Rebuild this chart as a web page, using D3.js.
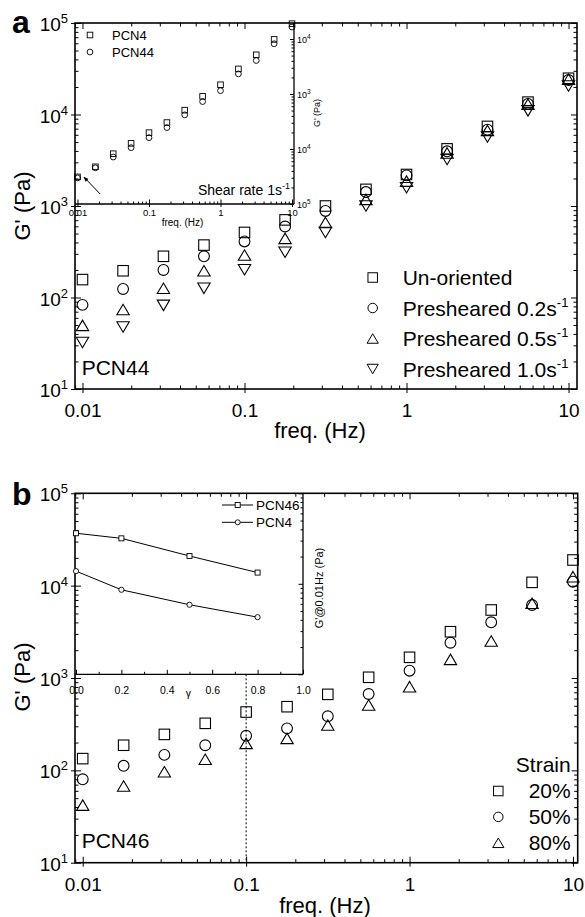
<!DOCTYPE html>
<html><head><meta charset="utf-8">
<script src="https://cdn.jsdelivr.net/npm/d3@7"></script>
<style>
body{margin:0;background:#fff}
svg text{font-family:"Liberation Sans",Arial,Helvetica,sans-serif;fill:#000}
</style>
</head><body>
<svg id="c" width="585" height="917" xmlns="http://www.w3.org/2000/svg"></svg>
<script>
// ---------------- data ----------------
const freq = [0.01,0.0178,0.0316,0.0562,0.1,0.178,0.316,0.562,1,1.78,3.16,5.62,10];
const aUnoriented = [157,196,282,374,514,705,1000,1520,2210,4210,7410,13650,24900];
const aPre02 = [83,124,200,282,410,597,883,1420,2160,3960,6820,13060,23800];
const aPre05 = [49.6,74,126,196,291,443,661,1180,1870,3800,6700,12970,24300];
const aPre10 = [32.2,47.6,82,126,201,312,514,1000,1585,3220,5680,10960,20500];
const insetAPCN4 = [1950,2525,3530,4600,6050,7830,10760,15300,20600,30900,44300,65700,98300];
const insetAPCN44 = [1900,2460,3240,4120,5320,6890,9540,13400,17700,27200,38300,58800,90200];
const bStrain20 = [134,187,245,323,428,489,665,1018,1675,3170,5450,10860,18960];
const bStrain50 = [80,112,147,187,237,285,385,671,1200,2410,4010,6170,11040];
const bStrain80 = [42,67.7,96.6,132,196,222,310,510,805,1592,2518,6440,12500];
const gamma = [0,0.2,0.5,0.8];
const insetBPCN46 = [36200,31800,20300,13300];
const insetBPCN4 = [13800,8590,5870,4280];
const freqTicks = [0.01,0.1,1,10];
const freqTickLabels = ["0.01","0.1","1","10"];
const gTicks = [10,100,1000,10000,100000];
const gTickExps = ["1","2","3","4","5"];
const insetAYTicks = [1e2,1e3,1e4,1e5];
const insetAYExps = ["5","4","3","4"];
const gammaTicks = [0,0.2,0.4,0.6,0.8,1.0];
const gammaMinor = [0.1,0.3,0.5,0.7,0.9];
const legendA = ["Un-oriented","Presheared 0.2s","Presheared 0.5s","Presheared 1.0s"];
const legendASup = ["","-1","-1","-1"];
const legendB = ["20%","50%","80%"];
const arrowFrom = [0.0207,1260], arrowTo = [0.0123,1945];
const markerLine = 0.1;

// ---------------- helpers ----------------
const svg = d3.select("#c");
const FONT = '"Liberation Sans",Arial,Helvetica,sans-serif';

function logTicks(scale){
  const d = scale.domain(), lo = Math.min(...d), hi = Math.max(...d), out=[];
  for(let k=Math.floor(Math.log10(lo)); k<=Math.ceil(Math.log10(hi)); k++)
    for(let m=1;m<=9;m++){const v=m*Math.pow(10,k); if(v>=lo*0.9999 && v<=hi*1.0001) out.push(v);}
  return out;
}
const isMajor = v => Math.abs(Math.log10(v)-Math.round(Math.log10(v)))<1e-6;
function clean(g){ g.select(".domain").remove(); g.selectAll("line").attr("stroke","#000").attr("stroke-width",1); return g; }

function symbol(g, type, cx, cy, s, sw){
  const st = {fill:"none",stroke:"#000","stroke-width":sw};
  let el;
  if(type==="square") el = g.append("rect").attr("x",cx-s/2).attr("y",cy-s/2).attr("width",s).attr("height",s);
  else if(type==="circle") el = g.append("circle").attr("cx",cx).attr("cy",cy).attr("r",s/2);
  else {
    const w=s*1.18, h=s*1.0;
    const pts = type==="up" ? [[cx,cy-h/2],[cx+w/2,cy+h/2],[cx-w/2,cy+h/2]] : [[cx,cy+h/2],[cx+w/2,cy-h/2],[cx-w/2,cy-h/2]];
    el = g.append("polygon").attr("points",pts.map(p=>p.join(",")).join(" "));
  }
  for(const k in st) el.attr(k,st[k]);
  return el;
}

function supLabel(sel, base, exps, supSize, supDy){
  sel.each(function(d,i){
    const t=d3.select(this); t.text(null);
    t.append("tspan").text(base);
    t.append("tspan").attr("font-size",supSize).attr("dy",supDy).text(exps[i]);
  });
}

function mainAxes(g, x, y){
  const [x0,x1]=x.range(), [y0,y1]=y.range();
  const xt=logTicks(x), yt=logTicks(y);
  const xMin=xt.filter(v=>!isMajor(v)), xMaj=xt.filter(isMajor);
  const yMin=yt.filter(v=>!isMajor(v)), yMaj=yt.filter(isMajor);
  // bottom
  g.append("g").attr("transform",`translate(0,${y0})`).call(d3.axisBottom(x).tickValues(xMin).tickSize(-3.5).tickFormat("")).call(clean);
  g.append("g").attr("transform",`translate(0,${y0})`).call(d3.axisBottom(x).tickValues(xMaj).tickSize(-6).tickFormat("")).call(clean);
  const bl = g.append("g").attr("transform",`translate(0,${y0})`)
    .call(d3.axisBottom(x).tickValues(freqTicks).tickSize(4).tickPadding(11).tickFormat((d,i)=>freqTickLabels[i])).call(clean);
  bl.attr("font-size",19).attr("font-family",FONT);
  // top
  g.append("g").attr("transform",`translate(0,${y1})`).call(d3.axisTop(x).tickValues(xMin).tickSize(-3.5).tickFormat("")).call(clean);
  g.append("g").attr("transform",`translate(0,${y1})`).call(d3.axisTop(x).tickValues(xMaj).tickSize(-6).tickFormat("")).call(clean);
  // left
  g.append("g").attr("transform",`translate(${x0},0)`).call(d3.axisLeft(y).tickValues(yMin).tickSize(-3.5).tickFormat("")).call(clean);
  g.append("g").attr("transform",`translate(${x0},0)`).call(d3.axisLeft(y).tickValues(yMaj).tickSize(-6).tickFormat("")).call(clean);
  const ll = g.append("g").attr("transform",`translate(${x0},0)`)
    .call(d3.axisLeft(y).tickValues(gTicks).tickSize(4).tickPadding(3).tickFormat(d=>"x")).call(clean);
  ll.attr("font-size",19).attr("font-family",FONT);
  ll.selectAll(".tick text").attr("dy","0.4em").call(supLabel,"10",gTickExps,13,-8);
  // right
  g.append("g").attr("transform",`translate(${x1},0)`).call(d3.axisRight(y).tickValues(yMin).tickSize(-3.5).tickFormat("")).call(clean);
  g.append("g").attr("transform",`translate(${x1},0)`).call(d3.axisRight(y).tickValues(yMaj).tickSize(-6).tickFormat("")).call(clean);
  // frame
  g.append("rect").attr("x",x0).attr("y",y1).attr("width",x1-x0).attr("height",y0-y1)
    .attr("fill","none").attr("stroke","#000").attr("stroke-width",1.6);
}

function series(g, x, y, xs, ys, type, s, sw){
  xs.forEach((xv,i)=>symbol(g,type,x(xv),y(ys[i]),s,sw));
}

// ================= PANEL A =================
const xa = d3.scaleLog().domain([0.00899,11.28]).range([75,577]);
const ya = d3.scaleLog().domain([10,1e5]).range([389,23]);
const ga = svg.append("g");
mainAxes(ga, xa, ya);

series(ga,xa,ya,freq,aUnoriented,"square",10.5,1.1);
series(ga,xa,ya,freq,aPre02,"circle",10.8,1.1);
series(ga,xa,ya,freq,aPre05,"up",10.5,1.1);
series(ga,xa,ya,freq,aPre10,"down",10.5,1.1);

// inset A
const xia = d3.scaleLog().domain([0.00923,10.66]).range([75,294]);
const yia = d3.scaleLog().domain([1e3,1e5]).range([203,23]);
const ria = d3.scaleLog().domain([1e2,Math.pow(10,2+181/55)]).range([204,23]);
const gia = svg.append("g");
const [ia0,ia1]=xia.range();
gia.append("line").attr("x1",ia1).attr("x2",ia1).attr("y1",ya.range()[1]).attr("y2",ria.range()[0]).attr("stroke","#000").attr("stroke-width",1.3);
gia.append("line").attr("x1",ia0).attr("x2",ia1).attr("y1",ria.range()[0]).attr("y2",ria.range()[0]).attr("stroke","#000").attr("stroke-width",1.3);
{
  const xt=logTicks(xia), xMin=xt.filter(v=>!isMajor(v)), xMaj=xt.filter(isMajor);
  const yb=ria.range()[0];
  gia.append("g").attr("transform",`translate(0,${yb})`).call(d3.axisBottom(xia).tickValues(xMin).tickSize(-2.5).tickFormat("")).call(clean);
  gia.append("g").attr("transform",`translate(0,${yb})`).call(d3.axisBottom(xia).tickValues(xMaj).tickSize(-4.5).tickFormat("")).call(clean);
  gia.append("g").attr("transform",`translate(0,${yb})`)
    .call(d3.axisBottom(xia).tickValues(freqTicks).tickSize(3).tickPadding(2.5).tickFormat((d,i)=>freqTickLabels[i])).call(clean)
    .attr("font-size",9.5).attr("font-family",FONT);
  const rt=logTicks(ria), rMin=rt.filter(v=>!isMajor(v)), rMaj=rt.filter(isMajor);
  gia.append("g").attr("transform",`translate(${ia1},0)`).call(d3.axisRight(ria).tickValues(rMin).tickSize(-2.5).tickFormat("")).call(clean);
  const rl = gia.append("g").attr("transform",`translate(${ia1},0)`)
    .call(d3.axisRight(ria).tickValues(insetAYTicks).tickSize(-4).tickPadding(-3).tickFormat(d=>"x")).call(clean);
  rl.attr("font-size",9).attr("font-family",FONT);
  rl.selectAll(".tick text").attr("x",3).attr("dy","0.4em").call(supLabel,"10",insetAYExps,6.5,-4);
}
series(gia,xia,yia,freq,insetAPCN4,"square",5.6,0.9);
series(gia,xia,yia,freq,insetAPCN44,"circle",5.8,0.9);
// inset A legend
symbol(gia,"square",90,35,5.6,0.9);
symbol(gia,"circle",90,52,5.8,0.9);
gia.append("text").attr("x",112).attr("y",40).attr("font-size",13).text("PCN4");
gia.append("text").attr("x",112).attr("y",57).attr("font-size",13).text("PCN44");
{
  const t=gia.append("text").attr("x",290).attr("y",195).attr("font-size",14).attr("text-anchor","end");
  t.append("tspan").text("Shear rate 1s");
  t.append("tspan").attr("font-size",9).attr("dy",-6).text("-1");
}
// arrow
svg.append("defs").append("marker").attr("id","ah").attr("viewBox","0 0 10 10").attr("refX",9).attr("refY",5)
  .attr("markerWidth",5).attr("markerHeight",5).attr("orient","auto")
  .append("path").attr("d","M0,1 L10,5 L0,9 z").attr("fill","#000");
gia.append("line").attr("x1",xia(arrowFrom[0])).attr("y1",yia(arrowFrom[1])).attr("x2",xia(arrowTo[0])).attr("y2",yia(arrowTo[1]))
  .attr("stroke","#000").attr("stroke-width",1).attr("marker-end","url(#ah)");
gia.append("text").attr("x",(ia0+ia1)/2-2).attr("y",226).attr("font-size",10).attr("text-anchor","middle").text("freq. (Hz)");
gia.append("text").attr("transform",`translate(${ia1+26},113) rotate(-90)`).attr("font-size",9).attr("text-anchor","middle").text("G' (Pa)");

// panel A labels
ga.append("text").attr("x",320).attr("y",438).attr("font-size",22).attr("text-anchor","middle").text("freq. (Hz)");
ga.append("text").attr("transform","translate(30,206) rotate(-90)").attr("font-size",22).attr("text-anchor","middle").text("G' (Pa)");
ga.append("text").attr("x",12).attr("y",33).attr("font-size",32).attr("font-weight","bold").text("a");
ga.append("text").attr("x",81.7).attr("y",375).attr("font-size",21).text("PCN44");
{
  const types=["square","circle","up","down"];
  legendA.forEach((s,i)=>{
    const yy = 285 + i*30.5;
    symbol(ga,types[i],372.7,yy-7.5,9.5,1);
    const t=ga.append("text").attr("x",402.7).attr("y",yy).attr("font-size",21);
    t.append("tspan").text(s);
    if(legendASup[i]) t.append("tspan").attr("font-size",13).attr("dy",-9).text(legendASup[i]);
  });
}

// ================= PANEL B =================
const xb = d3.scaleLog().domain([0.008971,10.69]).range([75,577.7]);
const yb = d3.scaleLog().domain([10,1e5]).range([862.7,493.3]);
const gb = svg.append("g");
mainAxes(gb, xb, yb);

// inset B
const xib = d3.scaleLinear().domain([0,1]).range([76,303]);
const yib = d3.scaleLog().domain([1e3,1e5]).range([674.3,493.3]);
const gib = svg.append("g");
{
  const [b0,b1]=xib.range(), ybot=yib.range()[0];
  gib.append("line").attr("x1",b1).attr("x2",b1).attr("y1",yib.range()[1]).attr("y2",ybot).attr("stroke","#000").attr("stroke-width",1.3);
  gib.append("line").attr("x1",75).attr("x2",b1).attr("y1",ybot).attr("y2",ybot).attr("stroke","#000").attr("stroke-width",1.3);
  gib.append("g").attr("transform",`translate(0,${ybot})`).call(d3.axisBottom(xib).tickValues(gammaMinor).tickSize(-2.5).tickFormat("")).call(clean);
  gib.append("g").attr("transform",`translate(0,${ybot})`)
    .call(d3.axisBottom(xib).tickValues(gammaTicks).tickSize(-4.5).tickPadding(12.5).tickFormat(d3.format(".1f"))).call(clean)
    .attr("font-size",10.5).attr("font-family",FONT);
  const rt=logTicks(yib), rMin=rt.filter(v=>!isMajor(v)), rMaj=rt.filter(isMajor);
  gib.append("g").attr("transform",`translate(${b1},0)`).call(d3.axisRight(yib).tickValues(rMin).tickSize(-2.5).tickFormat("")).call(clean);
  gib.append("g").attr("transform",`translate(${b1},0)`).call(d3.axisRight(yib).tickValues(rMaj).tickSize(-4.5).tickFormat("")).call(clean);
  gib.append("text").attr("x",188.3).attr("y",697).attr("font-size",10.5).attr("text-anchor","middle").text("γ");
  gib.append("text").attr("transform",`translate(${b1+20},588) rotate(-90)`).attr("font-size",11).attr("text-anchor","middle").text("G'@0.01Hz (Pa)");
}
const lineB = d3.line().x((d,i)=>xib(gamma[i])).y(d=>yib(d));
gib.append("path").attr("d",lineB(insetBPCN46)).attr("fill","none").attr("stroke","#000").attr("stroke-width",1);
gib.append("path").attr("d",lineB(insetBPCN4)).attr("fill","none").attr("stroke","#000").attr("stroke-width",1);
gamma.forEach((g,i)=>{
  symbol(gib,"square",xib(g),yib(insetBPCN46[i]),5,0.9).attr("fill","#fff");
  symbol(gib,"circle",xib(g),yib(insetBPCN4[i]),5.2,0.9).attr("fill","#fff");
});
// inset B legend
[["square","PCN46",505],["circle","PCN4",522.3]].forEach(([t,lab,yy])=>{
  gib.append("line").attr("x1",222).attr("x2",253).attr("y1",yy).attr("y2",yy).attr("stroke","#000").attr("stroke-width",1);
  symbol(gib,t,237.7,yy,5,0.9).attr("fill","#fff");
  gib.append("text").attr("x",256).attr("y",yy+5).attr("font-size",13.5).text(lab);
});

// dotted line
gb.append("line").attr("x1",xb(markerLine)).attr("x2",xb(markerLine)).attr("y1",yib.range()[0]).attr("y2",yb.range()[0])
  .attr("stroke","#000").attr("stroke-width",1).attr("stroke-dasharray","2,2");

series(gb,xb,yb,freq,bStrain20,"square",10.5,1.1);
series(gb,xb,yb,freq,bStrain50,"circle",10.8,1.1);
series(gb,xb,yb,freq,bStrain80,"up",10.5,1.1);

gb.append("text").attr("x",325).attr("y",913).attr("font-size",22).attr("text-anchor","middle").text("freq. (Hz)");
gb.append("text").attr("transform","translate(30,677) rotate(-90)").attr("font-size",22).attr("text-anchor","middle").text("G' (Pa)");
gb.append("text").attr("x",12).attr("y",505).attr("font-size",32).attr("font-weight","bold").text("b");
gb.append("text").attr("x",81.7).attr("y",848.3).attr("font-size",21).text("PCN46");
gb.append("text").attr("x",570.7).attr("y",771.7).attr("font-size",21).attr("text-anchor","end").text("Strain");
{
  const types=["square","circle","up"];
  legendB.forEach((s,i)=>{
    const yy = 798.3 + i*25.9;
    symbol(gb,types[i],498.3,yy-7.3,9.5,1);
    gb.append("text").attr("x",570.7).attr("y",yy).attr("font-size",21).attr("text-anchor","end").text(s);
  });
}
</script>
</body></html>
